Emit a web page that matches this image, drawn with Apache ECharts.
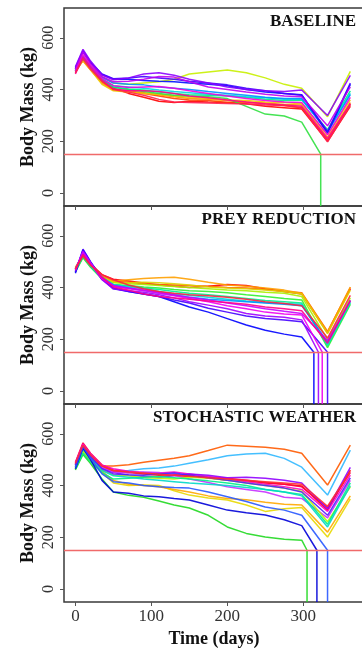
<!DOCTYPE html>
<html>
<head>
<meta charset="utf-8">
<script src="https://cdn.jsdelivr.net/npm/echarts@6/dist/echarts.min.js"></script>
<style>
html, body { margin: 0; padding: 0; background: #fff; }
#chart { width: 362px; height: 648px; }
</style>
</head>
<body>
<div id="chart"></div>
<script>
// sample days shared by every trajectory
const days = [0, 10, 20, 35, 50, 70, 90, 110, 130, 150, 175, 200, 225, 250, 275, 298, 332, 362]
const threshold = 150
const floorMass = -50
const xTicks = [0, 100, 200, 300]
const yTicks = [0, 200, 400, 600]
const panelTitles = ['BASELINE', 'PREY REDUCTION', 'STOCHASTIC WEATHER']

// BASELINE
const baselineColors = ['#FF0000', '#FF4000', '#FF8C00', '#F0C800', '#C8F000', '#30E040', '#00F080', '#00D8E0',
	'#0090FF', '#0010FF', '#4000FF', '#8C00FF', '#C000F0', '#F000E0', '#FF0090', '#FF2050']
const baselineMass = [
	[470, 520, 482, 435, 405, 385, 370, 355, 350, 355, 352, 350, 345, 335, 330, 325, 200, 335],
	[465, 515, 480, 430, 400, 395, 385, 375, 365, 360, 358, 350, 352, 345, 338, 330, 205, 345],
	[475, 510, 475, 425, 398, 392, 388, 380, 372, 365, 362, 358, 350, 348, 342, 340, 215, 350],
	[470, 512, 476, 420, 395, 390, 385, 382, 375, 370, 365, 360, 358, 352, 350, 345, 225, 360],
	[480, 530, 492, 450, 425, 420, 425, 430, 440, 460, 468, 475, 465, 445, 420, 405, 295, 470],
	[475, 525, 488, 440, 410, 400, 392, 385, 378, 375, 372, 365, 335, 305, 298, 274],
	[470, 522, 485, 435, 408, 402, 398, 390, 385, 380, 378, 375, 370, 362, 358, 360, 245, 395],
	[468, 520, 484, 440, 415, 410, 405, 398, 392, 388, 382, 378, 372, 368, 362, 362, 240, 385],
	[472, 528, 490, 447, 425, 420, 418, 410, 405, 400, 392, 385, 378, 370, 365, 365, 235, 380],
	[480, 545, 502, 458, 440, 440, 435, 432, 430, 425, 420, 415, 400, 390, 385, 380, 232, 420],
	[485, 550, 506, 460, 442, 445, 450, 445, 440, 432, 425, 418, 405, 395, 385, 378, 238, 425],
	[488, 555, 510, 456, 438, 445, 460, 465, 455, 440, 425, 410, 400, 395, 392, 398, 300, 455],
	[478, 545, 500, 450, 430, 432, 440, 450, 448, 430, 410, 400, 390, 382, 375, 372, 260, 410],
	[470, 535, 493, 443, 415, 408, 410, 412, 405, 395, 385, 375, 365, 358, 352, 350, 225, 370],
	[460, 525, 485, 436, 402, 395, 395, 392, 385, 375, 368, 360, 352, 345, 340, 335, 210, 345],
	[465, 518, 478, 432, 400, 390, 378, 362, 352, 350, 348, 346, 344, 340, 338, 330, 198, 340]
]
const baselineDeath = [null, null, null, null, null, 323, null, null, null, null, null, null, null, null, null, null]

// PREY REDUCTION
const preyColors = ['#FF0000', '#FF5000', '#FFA000', '#E0D000', '#A8F000', '#30F030', '#00F090', '#00D8D8',
	'#0090FF', '#0000FF', '#4400FF', '#A000FF', '#F000F0', '#C800FF', '#FF0088', '#FF2040']
const preyMass = [
	[470, 530, 492, 450, 432, 425, 418, 410, 405, 400, 405, 412, 408, 395, 385, 375, 225, 395],
	[475, 525, 488, 445, 425, 420, 415, 412, 410, 408, 405, 400, 398, 392, 385, 380, 230, 400],
	[478, 528, 488, 442, 425, 430, 435, 438, 440, 432, 420, 410, 405, 398, 390, 378, 228, 402],
	[470, 520, 483, 440, 420, 418, 420, 418, 415, 410, 402, 398, 395, 390, 385, 375, 222, 390],
	[465, 518, 481, 438, 418, 415, 412, 408, 404, 400, 395, 390, 388, 382, 378, 365, 200, 360],
	[460, 515, 478, 433, 412, 408, 402, 398, 392, 388, 385, 380, 372, 365, 358, 352, 168, 335],
	[462, 520, 481, 435, 410, 405, 398, 392, 385, 378, 372, 365, 358, 350, 345, 340, 175, 340],
	[468, 525, 485, 438, 412, 402, 395, 385, 375, 370, 362, 355, 348, 342, 338, 335, 180, 345],
	[472, 532, 490, 440, 408, 398, 388, 378, 370, 362, 355, 350, 345, 340, 335, 330, 190, 350],
	[455, 545, 497, 432, 398, 385, 375, 365, 345, 325, 305, 280, 255, 235, 220, 209],
	[460, 548, 500, 435, 395, 385, 375, 365, 352, 340, 320, 305, 290, 280, 275, 268],
	[465, 540, 495, 430, 395, 388, 382, 372, 360, 345, 332, 318, 300, 290, 285, 275],
	[470, 535, 493, 434, 405, 395, 388, 378, 368, 358, 345, 330, 318, 305, 298, 294],
	[468, 538, 495, 437, 408, 398, 390, 382, 372, 362, 352, 340, 330, 318, 308, 300, 195, 348],
	[470, 528, 488, 440, 402, 390, 375, 365, 360, 355, 348, 342, 335, 325, 318, 310, 185, 350],
	[472, 522, 485, 450, 430, 410, 395, 385, 378, 372, 368, 362, 355, 345, 338, 330, 205, 370]
]
const preyDeath = [null, null, null, null, null, null, null, null, null, 314, 332, 320, 325, null, null, null]

// STOCHASTIC WEATHER
const weatherColors = ['#FF5A00', '#30B8FF', '#FF0000', '#FF0044', '#FF00C8', '#9000FF', '#C830FF', '#E8D800',
	'#FFA800', '#B8F800', '#20D820', '#00F088', '#00D8C8', '#0000D8', '#2858FF', '#5020FF', '#FF3030']
const weatherMass = [
	[480, 540, 505, 475, 475, 480, 490, 498, 505, 515, 535, 556, 552, 548, 540, 525, 402, 556],
	[475, 550, 510, 465, 455, 458, 465, 468, 475, 486, 500, 515, 522, 525, 505, 471, 363, 537],
	[485, 560, 520, 475, 455, 450, 445, 440, 442, 438, 430, 420, 418, 410, 405, 398, 305, 460],
	[490, 565, 525, 480, 460, 452, 448, 445, 440, 435, 432, 428, 420, 412, 405, 395, 315, 450],
	[488, 560, 522, 478, 465, 455, 450, 448, 452, 445, 435, 425, 415, 405, 395, 385, 300, 440],
	[478, 548, 510, 468, 450, 440, 435, 432, 438, 445, 440, 430, 432, 428, 420, 410, 310, 470],
	[482, 552, 515, 470, 452, 448, 452, 450, 440, 425, 412, 395, 385, 375, 355, 350, 275, 420],
	[470, 530, 495, 450, 410, 400, 402, 400, 380, 363, 352, 344, 325, 300, 310, 315, 201, 348],
	[472, 535, 498, 455, 420, 405, 400, 395, 385, 375, 360, 350, 345, 335, 328, 325, 220, 360],
	[468, 532, 500, 460, 440, 438, 430, 428, 425, 432, 428, 420, 410, 400, 390, 378, 260, 395],
	[460, 520, 485, 425, 375, 362, 355, 340, 325, 313, 285, 240, 215, 201, 192, 189],
	[465, 525, 492, 450, 425, 428, 432, 435, 430, 425, 418, 410, 400, 385, 375, 365, 250, 410],
	[470, 540, 505, 458, 438, 432, 425, 420, 415, 410, 405, 400, 392, 385, 375, 360, 240, 400],
	[465, 545, 500, 420, 375, 370, 360, 357, 350, 344, 325, 305, 295, 286, 268, 245],
	[470, 550, 505, 445, 415, 410, 400, 395, 392, 390, 375, 357, 338, 317, 305, 285],
	[478, 552, 512, 465, 445, 442, 440, 445, 448, 440, 430, 420, 410, 400, 390, 375, 285, 430],
	[485, 555, 518, 475, 458, 452, 448, 444, 440, 436, 430, 425, 420, 415, 410, 405, 320, 455]
]
const weatherDeath = [null, null, null, null, null, null, null, null, null, null, 305, null, null, 318, 332, null, null]

const serif = '"Liberation Serif", "DejaVu Serif", serif'
const panelTop = [8, 206, 404]
const panelHeight = 198

function buildSeries(mass, colors, deaths, gi) {
	const series = mass.map((vals, k) => {
		const pts = []
		vals.forEach((v, i) => pts.push([days[i], v]))
		if (deaths[k] != null) {
			// starved: hits the threshold, then drops off the plot
			pts.push([deaths[k], threshold])
			pts.push([deaths[k], floorMass])
		}
		return {
			type: 'line',
			xAxisIndex: gi,
			yAxisIndex: gi,
			data: pts,
			showSymbol: false,
			silent: true,
			z: 3,
			lineStyle: { color: colors[k], width: 1.5, opacity: 0.9 }
		}
	})
	series.push({
		type: 'line',
		xAxisIndex: gi,
		yAxisIndex: gi,
		data: [],
		z: 2,
		silent: true,
		markLine: {
			silent: true,
			symbol: 'none',
			label: { show: false },
			lineStyle: { color: '#F06A6A', width: 1.4, type: 'solid' },
			data: [{ yAxis: threshold }]
		}
	})
	return series
}

const chart = echarts.init(document.getElementById('chart'), null, { renderer: 'canvas' })

const grids = panelTop.map((top) => ({
	left: 64,
	right: -2,
	top: top,
	height: panelHeight,
	outerBoundsMode: 'none',
	show: true,
	borderColor: '#3a3a3a',
	borderWidth: 1.5,
	backgroundColor: 'transparent'
}))

const xAxes = panelTop.map((_, i) => ({
	type: 'value',
	gridIndex: i,
	min: -15,
	max: 380,
	axisLine: { show: false, onZero: false },
	splitLine: { show: false },
	axisTick: { show: true, length: 4, customValues: xTicks, lineStyle: { color: '#555' } },
	axisLabel: {
		show: i === 2,
		customValues: xTicks,
		margin: 6,
		fontFamily: serif,
		fontSize: 17,
		color: '#333'
	},
	name: i === 2 ? 'Time (days)' : '',
	nameLocation: 'middle',
	nameGap: 28,
	nameMoveOverlap: false,
	nameTextStyle: { fontFamily: serif, fontSize: 18, fontWeight: 'bold', color: '#111' }
}))

const yAxes = panelTop.map((_, i) => ({
	type: 'value',
	gridIndex: i,
	min: floorMass,
	max: 715,
	axisLine: { show: false, onZero: false },
	splitLine: { show: false },
	axisTick: { show: true, length: 4, customValues: yTicks, lineStyle: { color: '#555' } },
	axisLabel: {
		customValues: yTicks,
		rotate: 90,
		margin: 7,
		fontFamily: serif,
		fontSize: 16,
		color: '#333'
	},
	name: 'Body Mass (kg)',
	nameLocation: 'middle',
	nameGap: 27,
	nameMoveOverlap: false,
	nameTextStyle: { fontFamily: serif, fontSize: 18, fontWeight: 'bold', color: '#111' }
}))

const titles = panelTitles.map((t, i) => ({
	text: t,
	right: 6,
	top: panelTop[i] + 5,
	padding: 0,
	textStyle: { fontFamily: serif, fontSize: 17, fontWeight: 'bold', color: '#111' }
}))

chart.setOption({
	animation: false,
	title: titles,
	grid: grids,
	xAxis: xAxes,
	yAxis: yAxes,
	series: [
		...buildSeries(baselineMass, baselineColors, baselineDeath, 0),
		...buildSeries(preyMass, preyColors, preyDeath, 1),
		...buildSeries(weatherMass, weatherColors, weatherDeath, 2)
	]
})
</script>
</body>
</html>
